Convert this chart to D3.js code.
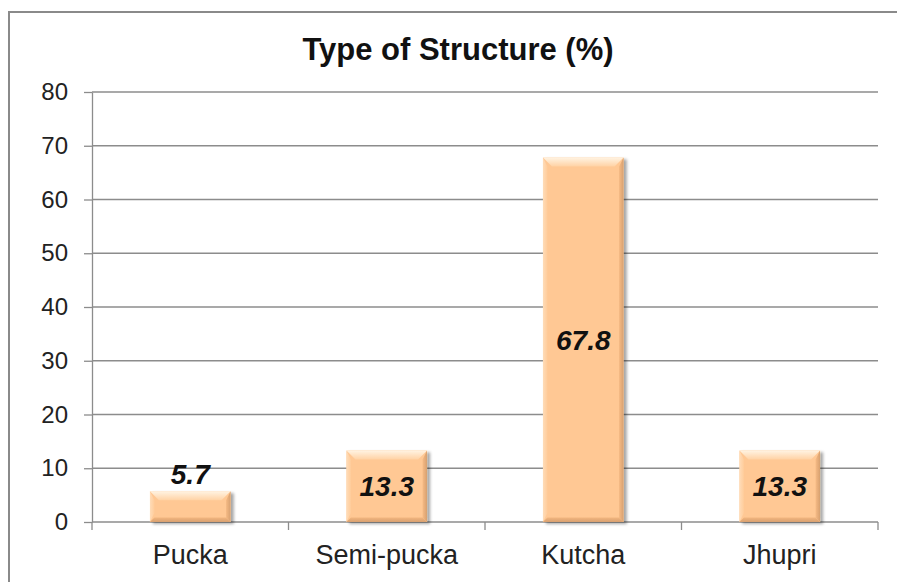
<!DOCTYPE html>
<html>
<head>
<meta charset="utf-8">
<script src="https://cdn.jsdelivr.net/npm/d3@7/dist/d3.min.js"></script>
<style>
  html, body { margin: 0; padding: 0; background: #fff; }
  svg { display: block; }
  text { font-family: "Liberation Sans", Arial, sans-serif; }
</style>
</head>
<body>
<svg id="chart" width="897" height="582"></svg>
<script>
// Housing structure shares, in percent
const categories = ["Pucka", "Semi-pucka", "Kutcha", "Jhupri"];
const values = [5.7, 13.3, 67.8, 13.3];
const yTicks = [0, 10, 20, 30, 40, 50, 60, 70, 80];
const chartTitle = "Type of Structure (%)";

const data = categories.map((c, i) => ({ cat: c, val: values[i] }));

const W = 897, H = 582;
const plot = { left: 92, right: 878, top: 92, bottom: 522 };

const svg = d3.select("#chart");
const defs = svg.append("defs");

// soft shadow falling to the lower right of each bar
const shadow = defs.append("filter").attr("id", "barShadow")
  .attr("x", "-10%").attr("y", "-10%").attr("width", "130%").attr("height", "130%");
shadow.append("feDropShadow").attr("dx", 3).attr("dy", 2)
  .attr("stdDeviation", 1.8).attr("flood-color", "#000").attr("flood-opacity", 0.35);

const grad = (id, x2, y2, stops) => {
  const g = defs.append("linearGradient").attr("id", id)
    .attr("x1", 0).attr("y1", 0).attr("x2", x2).attr("y2", y2);
  stops.forEach(([o, c]) => g.append("stop").attr("offset", o).attr("stop-color", c));
};
grad("bevTop", 0, 1, [[0, "#fff3e2"], [1, "#ffd2a4"]]);
grad("bevLeft", 1, 0, [[0, "#ffdcb8"], [1, "#ffcc9a"]]);
grad("bevRight", 1, 0, [[0, "#f6bb85"], [1, "#d7a06f"]]);
grad("bevBottom", 0, 1, [[0, "#f2b67f"], [1, "#d8a070"]]);

// outer chart frame
svg.append("rect")
  .attr("x", 9).attr("y", 12).attr("width", W + 20).attr("height", H + 20)
  .attr("fill", "#fff").attr("stroke", "#8a8a8a").attr("stroke-width", 2);

const x = d3.scaleBand()
  .domain(categories)
  .range([plot.left, plot.right])
  .paddingInner(0.59)
  .paddingOuter(0.295);

const y = d3.scaleLinear().domain([0, 80]).range([plot.bottom, plot.top]);

// horizontal gridlines
svg.append("g").selectAll("line").data(yTicks.filter(t => t > 0)).join("line")
  .attr("x1", plot.left).attr("x2", plot.right)
  .attr("y1", d => y(d)).attr("y2", d => y(d))
  .attr("stroke", "#8c8c8c").attr("stroke-width", 1.3);

// y axis
const yAxis = svg.append("g")
  .attr("transform", `translate(${plot.left},0)`)
  .call(d3.axisLeft(y).tickValues(yTicks).tickSize(8).tickPadding(16).tickSizeOuter(0));
yAxis.select(".domain").attr("stroke", "#8c8c8c").attr("stroke-width", 1.3);
yAxis.selectAll(".tick line").attr("stroke", "#8c8c8c").attr("stroke-width", 1.3);
yAxis.selectAll(".tick text")
  .attr("font-size", 24).attr("fill", "#222")
  .style("font-family", "'Liberation Sans', Arial, sans-serif");

// x axis: baseline with tick marks at category boundaries
const xAxisG = svg.append("g");
xAxisG.append("line")
  .attr("x1", plot.left).attr("x2", plot.right)
  .attr("y1", y(0)).attr("y2", y(0))
  .attr("stroke", "#8c8c8c").attr("stroke-width", 1.3);
const bounds = categories.map(c => x(c) - x.step() * x.paddingInner() / 2);
bounds.push(plot.right);
xAxisG.selectAll("line.tk").data(bounds).join("line").attr("class", "tk")
  .attr("x1", d => d).attr("x2", d => d)
  .attr("y1", y(0)).attr("y2", y(0) + 8)
  .attr("stroke", "#8c8c8c").attr("stroke-width", 1.3);
xAxisG.selectAll("text").data(categories).join("text")
  .attr("x", d => x(d) + x.bandwidth() / 2)
  .attr("y", y(0) + 42)
  .attr("text-anchor", "middle")
  .attr("font-size", 27).attr("fill", "#222")
  .text(d => d);

// bevelled bars
const bars = svg.append("g").selectAll("g.bar").data(data).join("g")
  .attr("class", "bar").attr("filter", "url(#barShadow)");

bars.each(function (d) {
  const g = d3.select(this);
  const x0 = x(d.cat), x1 = x0 + x.bandwidth();
  const y0 = y(d.val), y1 = y(0);
  const b = Math.min(9, (y1 - y0) / 2, x.bandwidth() / 2);
  g.append("rect").attr("x", x0).attr("y", y0)
    .attr("width", x1 - x0).attr("height", y1 - y0).attr("fill", "#ffc894");
  const poly = (pts, fill) => g.append("polygon")
    .attr("points", pts.map(p => p.join(",")).join(" ")).attr("fill", fill);
  poly([[x0, y0], [x1, y0], [x1 - b, y0 + b], [x0 + b, y0 + b]], "url(#bevTop)");
  poly([[x0, y0], [x0 + b * 0.5, y0 + b], [x0 + b * 0.5, y1 - b], [x0, y1]], "url(#bevLeft)");
  poly([[x1, y0], [x1 - b * 0.5, y0 + b], [x1 - b * 0.5, y1 - b * 0.5], [x1, y1]], "url(#bevRight)");
  poly([[x0, y1], [x0 + b * 0.5, y1 - b * 0.5], [x1 - b * 0.5, y1 - b * 0.5], [x1, y1]], "url(#bevBottom)");
});

// value labels: centred in the bar, or above it when the bar is too short
const labelSize = 28;
svg.append("g").selectAll("text").data(data).join("text")
  .attr("x", d => x(d.cat) + x.bandwidth() / 2)
  .attr("y", d => {
    const h = y(0) - y(d.val);
    return h > labelSize * 1.5 ? (y(d.val) + y(0)) / 2 + labelSize * 0.36 : y(d.val) - 7;
  })
  .attr("text-anchor", "middle")
  .attr("font-size", labelSize).attr("font-weight", "bold").attr("font-style", "italic")
  .attr("fill", "#111")
  .text(d => d.val.toFixed(1));

// title
svg.append("text")
  .attr("x", 458).attr("y", 60)
  .attr("text-anchor", "middle")
  .attr("font-size", 31).attr("font-weight", "bold").attr("fill", "#111")
  .text(chartTitle);
</script>
</body>
</html>
